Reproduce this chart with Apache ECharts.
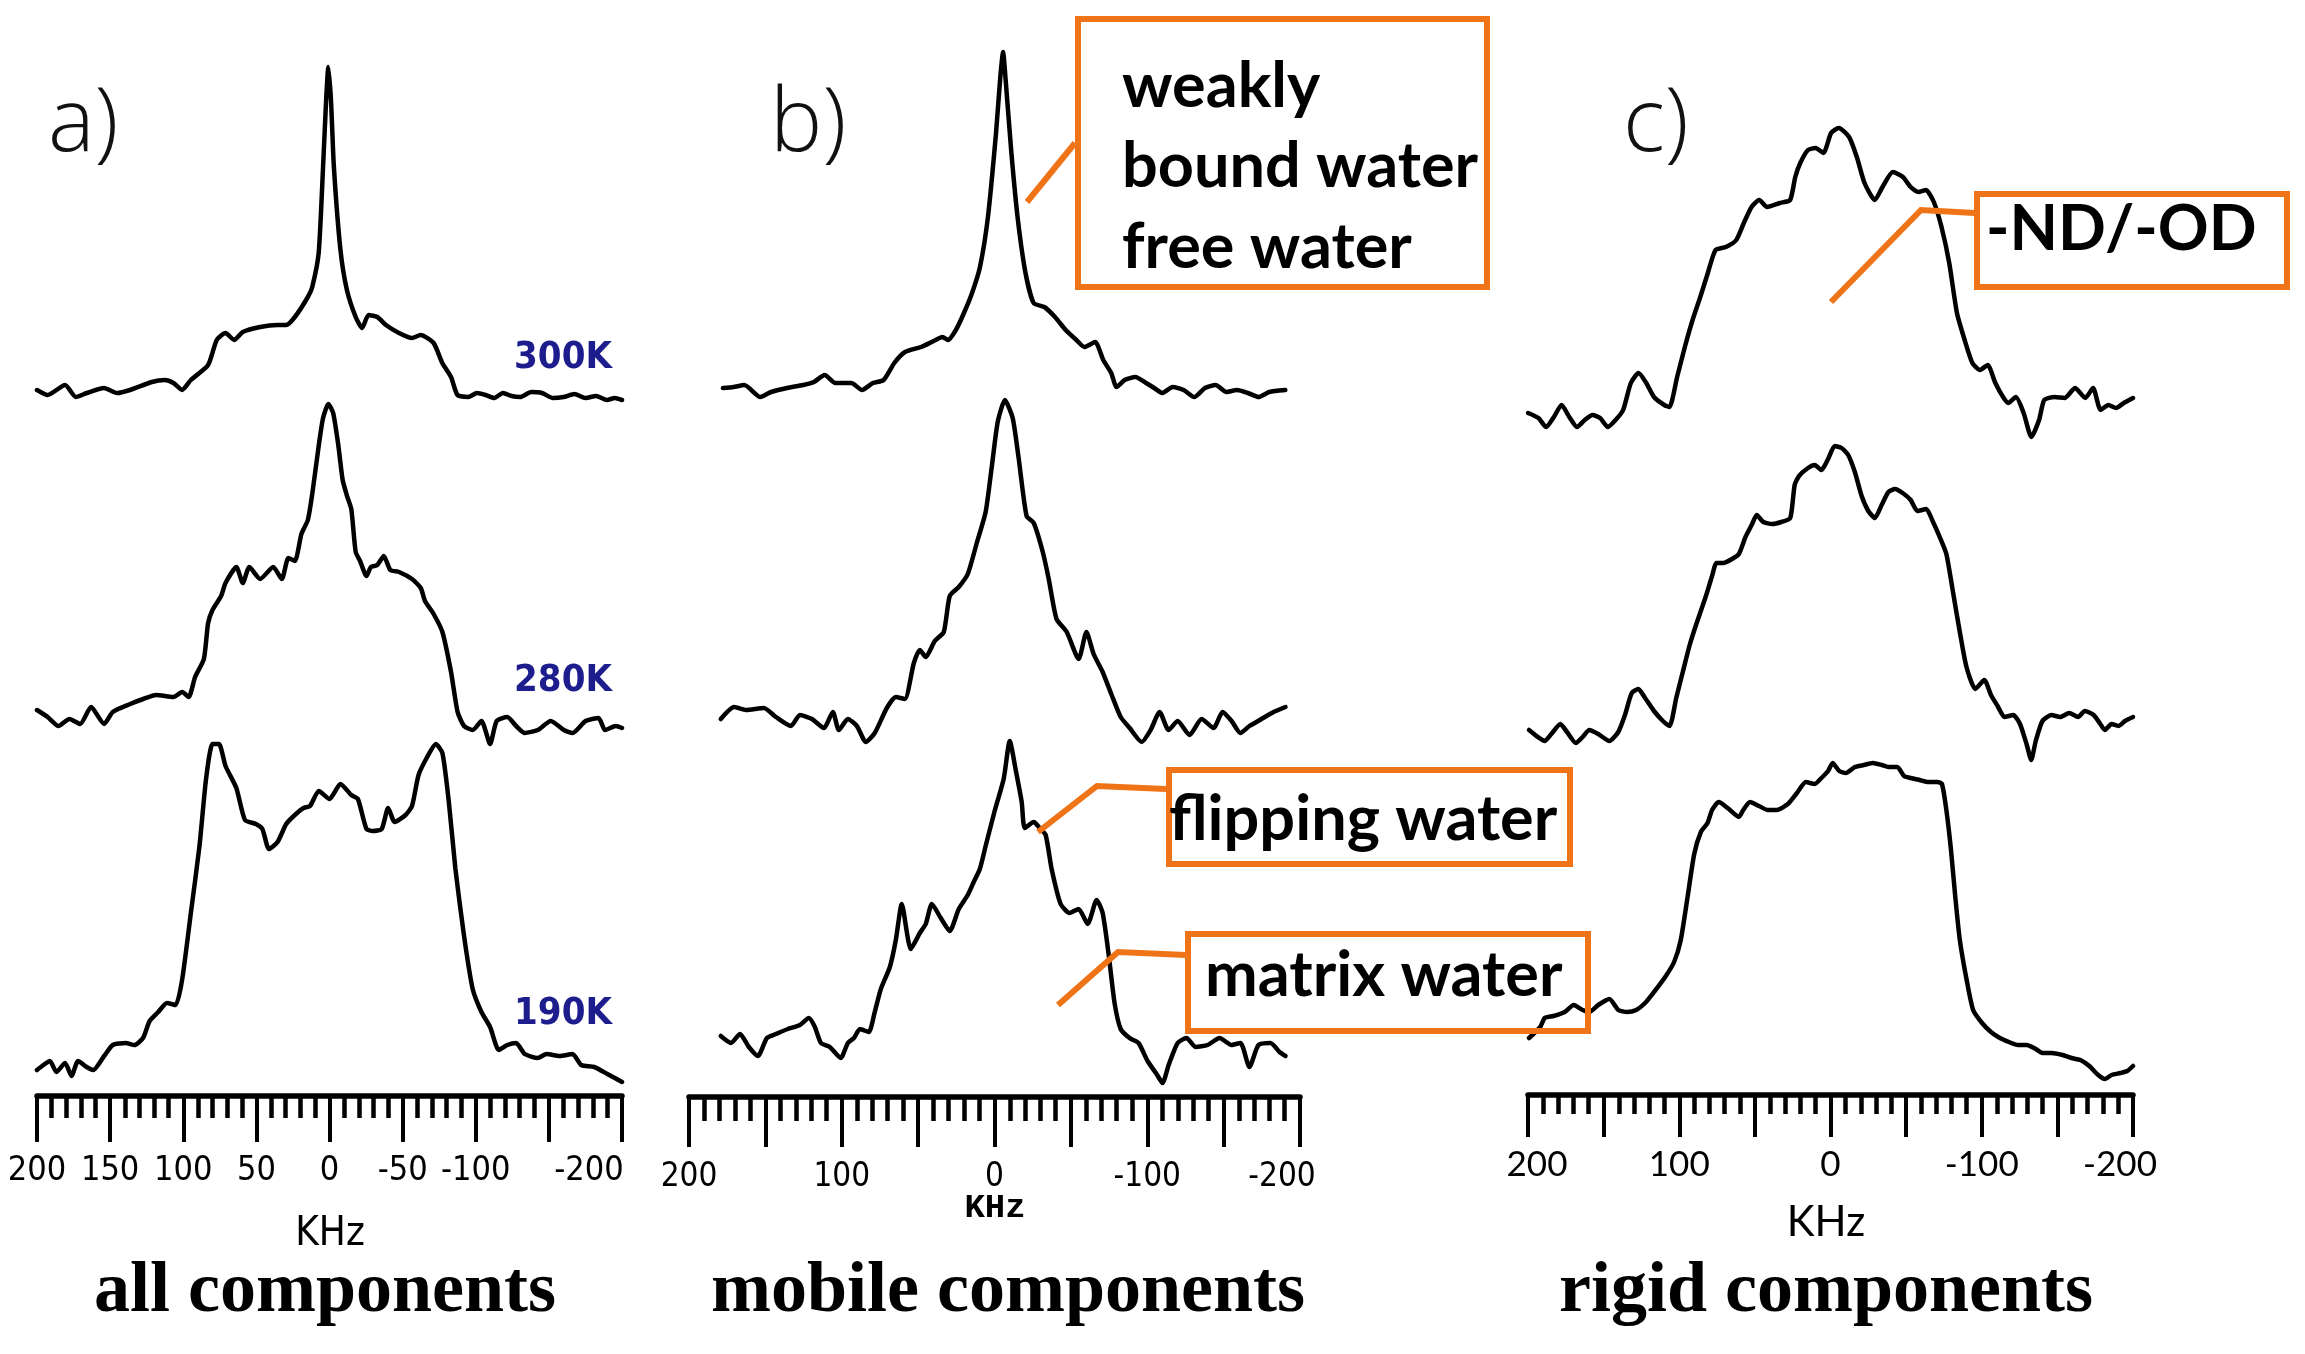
<!DOCTYPE html>
<html>
<head>
<meta charset="utf-8">
<script src="https://cdn.jsdelivr.net/npm/echarts@6/dist/echarts.min.js"></script>
<style>
html,body{margin:0;padding:0;background:#ffffff;}
#chart{width:2305px;height:1354px;}
</style>
</head>
<body>
<div id="chart"></div>
<script>
// ---------------- DATA (frequency in kHz, intensity in arbitrary units) ----------------
// Panel a) all components
const a300K = [[200,10],[192.7,5],[180.8,15],[173.4,3],[166,7],[154.2,12],[145.3,7],[136.4,10],[121.5,18],[112.6,20],[106.7,17],[100.8,10],[94.8,20],[83,35],[77.1,60],[71.1,67],[65.2,60],[59.3,68],[47.4,73],[35.6,75],[29.6,75],[23.7,83],[14.8,103],[11.8,113],[7.4,147],[4.4,233],[2.3,300],[0.8,333],[-1,300],[-3,233],[-7.5,150],[-11.9,110],[-17.9,83],[-22.3,72],[-26.7,85],[-32.7,83],[-38.6,75],[-47.5,67],[-56.4,62],[-62.3,65],[-71.2,57],[-77.1,37],[-83.1,23],[-87.5,5],[-94.9,3],[-100.8,7],[-106.8,5],[-112.6,2],[-118.6,7],[-124.5,4],[-130.5,3],[-137.9,8],[-145.3,7],[-152.7,2],[-160,3],[-167.5,6],[-174.9,2],[-182.3,4],[-189.7,0],[-195,2],[-200,0]];
const a280K = [[200,20],[192.7,13],[185.3,4],[177.8,11],[170.5,6],[163,23],[154.1,6],[148.2,18],[136.3,26],[127.4,31],[118.6,35],[106.7,33],[100.7,38],[96.3,33],[91.9,53],[85.9,71],[83,107],[80,120],[74.1,134],[71.1,147],[63.7,163],[59.3,147],[54.8,163],[47.4,151],[38.5,163],[32.6,151],[28.1,172],[23.7,169],[19.2,196],[14.8,210],[11.8,236],[7.3,285],[4.4,312],[0.8,326],[-2.5,317],[-6,285],[-9,250],[-12,234],[-14.9,221],[-17.9,178],[-20.9,169],[-25.3,154],[-28.3,163],[-32.7,165],[-37.1,174],[-41.6,160],[-47.5,158],[-56.4,151],[-62.4,142],[-65.3,129],[-71.2,116],[-77.2,98],[-83.1,58],[-87.6,18],[-92,4],[-97.9,0],[-103.9,9],[-109.8,-14],[-114.3,9],[-121.6,13],[-127.6,4],[-133.5,-3],[-142.4,0],[-151.3,9],[-160.2,0],[-166.2,-3],[-175.1,9],[-184,12],[-188.4,0],[-195.8,4],[-200,2]];
const a190K = [[200,15],[195.6,20],[191.2,24],[186.7,13],[180.8,22],[176.4,9],[171.9,24],[166,18],[161.6,15],[154.1,29],[148.2,40],[139.3,42],[133.4,40],[127.5,47],[123,64],[117.1,73],[111.1,82],[105.2,80],[100.8,105],[94.8,172],[88.9,239],[84.4,306],[80,341],[75.6,341],[71.1,319],[63.7,297],[57.8,265],[50.3,261],[45.9,256],[41.4,236],[35.5,243],[29.6,261],[23.7,270],[17.7,277],[13.3,279],[7.3,294],[0,286],[-7.5,301],[-14.9,290],[-19.4,286],[-25.3,256],[-29.7,254],[-35.7,256],[-40.1,277],[-44.6,263],[-52,270],[-56.4,279],[-60.9,310],[-66.8,328],[-72.7,341],[-77.2,332],[-81.6,283],[-86.1,216],[-92,149],[-97.9,96],[-103.9,73],[-109.8,58],[-115.8,35],[-121.6,40],[-127.6,42],[-133.5,31],[-142.4,27],[-148.4,31],[-157.3,29],[-166.2,31],[-172.1,20],[-181,18],[-190,11],[-200,3]];
// Panel b) mobile components
const bTop = [[177.8,7],[170.8,8],[163.8,10],[153.3,-2],[146.3,3],[135.8,7],[125.2,10],[118.2,13],[111.2,20],[104.2,12],[93.7,12],[86.7,5],[79.6,12],[72.6,15],[65.6,32],[58.6,43],[48.1,48],[41.1,53],[34,58],[30.5,55],[25.3,65],[20,82],[14.7,102],[9.5,128],[4.3,178],[-1,262],[-3.8,318],[-5.6,343],[-7.3,315],[-10.9,245],[-15.1,178],[-20.3,122],[-25.6,92],[-32.6,88],[-39.6,78],[-46.6,65],[-53.6,55],[-58.9,48],[-65.9,53],[-71.2,35],[-76.4,22],[-79.9,8],[-85.2,15],[-92.2,18],[-99.2,12],[-104.5,7],[-109.7,2],[-116.7,8],[-123.8,5],[-130.8,-2],[-137.8,7],[-144.8,10],[-151.8,3],[-158.8,5],[-165.9,2],[-172.9,-2],[-179.9,3],[-190.4,5]];
const bMid = [[179.2,9],[170.5,21],[162.7,18],[151,20],[143.1,11],[133.3,2],[127.4,13],[119.5,9],[111.7,0],[105.8,16],[101.9,-2],[96,9],[90.1,2],[84.2,-14],[78.4,-5],[70.5,20],[64.6,31],[58.7,29],[52.8,65],[48.9,78],[45,71],[39.1,87],[33.2,96],[29.3,132],[23.4,141],[17.5,154],[11.6,185],[5.8,216],[1.8,261],[-2.1,306],[-6.8,328],[-11.9,310],[-15.8,270],[-21,212],[-25.7,205],[-31.6,176],[-35.5,149],[-40.6,109],[-47.3,96],[-55.1,69],[-60.2,96],[-64.9,74],[-70.8,56],[-76.7,33],[-82.6,11],[-88.5,0],[-96.3,-14],[-102.2,-2],[-108.1,16],[-114,-2],[-119.9,7],[-127.7,-7],[-135.6,9],[-143.4,0],[-149.3,16],[-155.2,7],[-161,-5],[-166.9,2],[-174.8,9],[-182.7,16],[-190.5,21]];
const bLow = [[179.2,9],[172.5,2],[166.6,11],[160.8,-2],[154.9,-11],[149,7],[143.1,11],[135.3,16],[127.4,20],[121.5,27],[117.6,18],[113.6,2],[107.8,-2],[100.7,-13],[96,2],[92,7],[88.1,16],[82.3,13],[78.4,33],[74.4,56],[68.5,78],[64.6,105],[60.7,141],[54.8,96],[48.9,112],[45,121],[41,141],[35.2,127],[29.3,114],[23.4,136],[17.5,150],[13.6,163],[9.6,176],[5.8,199],[-0.1,234],[-6,266],[-10,304],[-13.9,275],[-17.8,243],[-19.8,217],[-25.7,223],[-29.6,217],[-33.5,210],[-37.4,176],[-43.3,141],[-49.2,132],[-55.1,136],[-61,121],[-66.9,145],[-70.8,132],[-74.7,91],[-78.6,42],[-82.6,16],[-88.4,7],[-94.3,2],[-100.2,-16],[-106.1,-29],[-110,-38],[-114,-20],[-119.9,2],[-125.7,7],[-131.7,-2],[-139.5,0],[-147.4,7],[-155.2,0],[-161,2],[-166.9,-22],[-172.8,0],[-180.7,2],[-186.6,-7],[-190.5,-11]];
// Panel c) rigid components
const cTop = [[199.9,2],[193.1,-3],[188,-12],[182.9,-2],[177.8,10],[172.7,-2],[167.6,-12],[162.5,-5],[157.4,0],[152.3,-3],[147.2,-12],[142.1,-5],[137.1,5],[132,32],[126.9,42],[121.8,32],[116.7,18],[109.9,10],[106.5,8],[101.4,38],[96.3,68],[91.2,95],[86.1,118],[81.1,142],[76,165],[69.2,168],[62.3,175],[57.3,192],[52.2,208],[47.1,215],[42,208],[33.5,212],[26.7,215],[23.3,238],[20,252],[14.9,265],[9.8,267],[4.7,262],[-0.4,282],[-5.5,287],[-12.3,278],[-17.4,258],[-22.5,232],[-29.3,215],[-34.4,228],[-41.2,243],[-47.9,238],[-53,228],[-58.1,223],[-63.2,225],[-68.3,213],[-73.4,188],[-78.5,152],[-83.6,102],[-88.7,75],[-93.8,52],[-98.8,45],[-103.9,50],[-109,32],[-114.1,18],[-117.6,12],[-122.6,18],[-127.7,2],[-132.8,-22],[-137.9,-5],[-141.3,15],[-148.1,18],[-154.8,17],[-161.7,27],[-168.5,17],[-173.6,27],[-178.6,5],[-183.7,10],[-188.8,7],[-193.9,12],[-200,17]];
const cMid = [[199.3,10],[193.5,3],[189,-1],[184.6,6],[178.6,16],[174.2,8],[168.3,-3],[163.9,3],[159.5,10],[153.6,6],[146.2,-1],[140.3,8],[135.9,25],[131.4,47],[127,51],[122.6,42],[116.7,29],[110.8,19],[106.4,14],[102,42],[97.5,69],[93.1,95],[88.7,116],[82.8,142],[78.3,164],[75.4,177],[70.9,177],[65.1,181],[60.6,186],[56.2,203],[51.8,216],[48.8,225],[44.4,218],[38.5,216],[32.6,218],[26.6,222],[23.7,255],[20.8,264],[14.9,272],[10.4,275],[6,270],[1.6,281],[-2.8,294],[-7.3,292],[-11.7,285],[-16.1,268],[-20.6,244],[-25,229],[-29.4,222],[-33.8,235],[-38.3,248],[-42.7,251],[-48.6,246],[-53,240],[-57.5,229],[-63.3,231],[-67.8,218],[-72.2,203],[-76.6,186],[-81.1,147],[-85.5,108],[-89.9,73],[-95.8,51],[-101.7,60],[-106.1,45],[-110.5,34],[-115,23],[-120.9,25],[-125.3,16],[-129.8,-5],[-132.7,-20],[-135.7,-1],[-140.1,19],[-146,25],[-151.9,23],[-157.8,27],[-163.7,23],[-168.1,29],[-174,25],[-178.4,16],[-181.4,10],[-185.8,16],[-190.3,14],[-194.7,19],[-200,23]];
const cLow = [[199.3,42],[191.9,53],[189,62],[183.1,64],[175.7,68],[169.8,75],[163.9,70],[159.5,68],[153.6,75],[146.2,81],[140.3,70],[134.4,68],[128.5,70],[122.6,77],[116.7,88],[109.3,103],[103.4,118],[99,140],[94.5,183],[90.1,226],[85.7,248],[81.3,257],[78.3,270],[73.9,278],[68,272],[60.6,263],[57.7,270],[53.2,278],[47.3,274],[41.5,270],[35.5,270],[28.2,276],[22.2,287],[16.3,298],[10.4,296],[6,302],[1.6,309],[-1.4,317],[-5.8,309],[-10.2,307],[-16.1,313],[-22,315],[-28,317],[-33.9,315],[-38.3,313],[-44.2,313],[-48.6,304],[-53,302],[-58.9,300],[-64.8,298],[-70.7,298],[-73.7,296],[-76.6,270],[-79.6,231],[-82.5,183],[-85.5,140],[-89.9,101],[-94.3,70],[-100.2,57],[-106.1,48],[-112,42],[-118,38],[-123.9,35],[-129.8,35],[-135.7,31],[-140.1,27],[-146,27],[-153.4,25],[-159.3,22],[-165.2,20],[-171.1,14],[-177,5],[-181.4,1],[-185.8,5],[-191.7,7],[-196.2,9],[-200,14]];

// Tick labels of the three frequency axes (one entry per major tick, 200 -> -200)
const ticksA = ['200','150','100','50','0','-50','-100','','-200'];
const ticksB = ['200','','100','','0','','-100','','-200'];
const ticksC = ['200','','100','','0','','-100','','-200'];
const tempLabels = ['300K','280K','190K'];
const panelLetters = ['a)','b)','c)'];
const panelTitles = ['all components','mobile components','rigid components'];
const axisUnit = 'KHz';
const annotations = [['weakly','bound water','free water'],['-ND/-OD'],['flipping water'],['matrix water']];

// ---------------- LAYOUT ----------------
const ORANGE = '#EF7417';
const NAVY = '#1d1d8e';
const COND = '"DejaVu Sans Condensed","DejaVu Sans",sans-serif';
const panels = [
  {left:37, width:585, base:[400,730,1085], axisY:1096, tickLen:46, minorLen:22, margin:58,
   ticks:ticksA, labFont:COND, labSize:34, lastShift:66, firstShift:0},
  {left:689, width:611, base:[395,728,1045], axisY:1097, tickLen:50, minorLen:24, margin:64,
   ticks:ticksB, labFont:COND, labSize:33, lastShift:36, firstShift:0},
  {left:1528, width:605, base:[415,740,1080], axisY:1095, tickLen:42, minorLen:19, margin:52,
   ticks:ticksC, labFont:'Lato, sans-serif', labSize:35, lastShift:26, firstShift:-18}
];
const traces = [[a300K,a280K,a190K],[bTop,bMid,bLow],[cTop,cMid,cLow]];

const grids = [], xAxes = [], yAxes = [], series = [];
panels.forEach((p, pi) => {
  traces[pi].forEach((tr, ti) => {
    const gi = grids.length;
    grids.push({left:p.left, width:p.width, top:p.base[ti]-360, height:420});
    xAxes.push({gridIndex:gi, type:'value', min:-200, max:200, inverse:true, show:false});
    yAxes.push({gridIndex:gi, type:'value', min:-60, max:360, show:false});
    series.push({type:'line', xAxisIndex:gi, yAxisIndex:gi, data:tr, symbol:'none', showSymbol:false,
      smooth:0.2, lineStyle:{color:'#000', width:4.5, join:'round', cap:'round'}, silent:true, animation:false, z:3});
  });
  const gi = grids.length;
  grids.push({left:p.left, width:p.width, top:p.axisY-10, height:10});
  xAxes.push({
    gridIndex:gi, type:'value', min:-200, max:200, interval:50, inverse:true, position:'bottom',
    axisLine:{show:true, onZero:false, lineStyle:{color:'#000', width:5.5}},
    axisTick:{show:true, length:p.tickLen, lineStyle:{color:'#000', width:4}},
    minorTick:{show:true, splitNumber:5, length:p.minorLen, lineStyle:{color:'#000', width:4.5}},
    splitLine:{show:false}, minorSplitLine:{show:false},
    axisLabel:{
      show:true, margin:p.margin, color:'#000', fontFamily:p.labFont, fontSize:p.labSize,
      showMinLabel:true, showMaxLabel:true, hideOverlap:false,
      formatter:(v) => {
        const i = Math.round((200 - v) / 50);
        const t = p.ticks[i] || '';
        if (t === '') return '';
        if (i === 8) return '{l|' + t + '}';
        if (i === 0 && p.firstShift) return '{f|' + t + '}';
        return t;
      },
      rich:{
        l:{fontFamily:p.labFont, fontSize:p.labSize, color:'#000', padding:[0,p.lastShift,0,0]},
        f:{fontFamily:p.labFont, fontSize:p.labSize, color:'#000', padding:[0,0,0,-p.firstShift]}
      }
    }
  });
  yAxes.push({gridIndex:gi, type:'value', min:0, max:1, show:false});
});

// ---------------- TEXT & ANNOTATIONS ----------------
function txt(text, x, y, font, size, weight, color, align) {
  return {type:'text', x:x, y:y, z:10, silent:true,
    style:{text:text, fontFamily:font, fontSize:size, fontWeight:weight, fill:color,
      align:align||'left', verticalAlign:'middle', textAlign:align||'left', textVerticalAlign:'middle'}};
}
const LETTER_FONT = '"Open Sans", sans-serif';
const CAL = 'Lato, "Open Sans", sans-serif';
const SERIF = '"Liberation Serif", "Times New Roman", serif';
const graphics = [];
// panel letters
graphics.push(txt(panelLetters[0], 48, 126, LETTER_FONT, 88, 300, '#111', 'left'));
graphics.push(txt(panelLetters[1], 770, 126, LETTER_FONT, 88, 300, '#111', 'left'));
graphics.push(txt(panelLetters[2], 1623, 126, LETTER_FONT, 88, 300, '#111', 'left'));
// temperatures
graphics.push(txt(tempLabels[0], 563, 358, COND, 38, 'bold', NAVY, 'center'));
graphics.push(txt(tempLabels[1], 563, 681, COND, 38, 'bold', NAVY, 'center'));
graphics.push(txt(tempLabels[2], 563, 1014, COND, 38, 'bold', NAVY, 'center'));
// axis unit labels
graphics.push(txt(axisUnit, 330, 1235, COND, 40, 'normal', '#000', 'center'));
graphics.push(txt(axisUnit, 995, 1208, '"Liberation Mono", monospace', 34, 'bold', '#000', 'center'));
graphics.push(txt(axisUnit, 1826, 1222, CAL, 42, 'normal', '#000', 'center'));
// panel titles
graphics.push(txt(panelTitles[0], 325, 1292, SERIF, 72, 'bold', '#000', 'center'));
graphics.push(txt(panelTitles[1], 1008, 1292, SERIF, 72, 'bold', '#000', 'center'));
graphics.push(txt(panelTitles[2], 1826, 1292, SERIF, 72, 'bold', '#000', 'center'));
// annotation boxes
function box(x, y, w, h) {
  return {type:'rect', z:8, silent:true, shape:{x:x, y:y, width:w, height:h},
    style:{fill:'rgba(0,0,0,0)', stroke:ORANGE, lineWidth:6}};
}
function leader(points) {
  return {type:'polyline', z:8, silent:true, shape:{points:points},
    style:{fill:null, stroke:ORANGE, lineWidth:6}};
}
graphics.push(box(1078, 19, 409, 268));
graphics.push(leader([[1027,202],[1075,143]]));
graphics.push(txt(annotations[0][0], 1122, 87, CAL, 63, 'bold', '#000', 'left'));
graphics.push(txt(annotations[0][1], 1122, 167, CAL, 63, 'bold', '#000', 'left'));
graphics.push(txt(annotations[0][2], 1122, 248, CAL, 63, 'bold', '#000', 'left'));

graphics.push(box(1977, 194, 310, 93));
graphics.push(leader([[1831,302],[1921,210],[1975,213]]));
graphics.push(txt(annotations[1][0], 1986, 230, CAL, 63, 'bold', '#000', 'left'));

graphics.push(box(1169, 770, 401, 94));
graphics.push(leader([[1038,832],[1097,786],[1166,789]]));
graphics.push(txt(annotations[2][0], 1169, 820, CAL, 63, 'bold', '#000', 'left'));

graphics.push(box(1188, 934, 400, 97));
graphics.push(leader([[1058,1005],[1118,952],[1186,955]]));
graphics.push(txt(annotations[3][0], 1205, 976, CAL, 63, 'bold', '#000', 'left'));

const chart = echarts.init(document.getElementById('chart'), null, {renderer:'canvas'});
chart.setOption({
  animation:false,
  backgroundColor:'#ffffff',
  grid:grids, xAxis:xAxes, yAxis:yAxes, series:series,
  graphic:{elements:graphics}
});
</script>
</body>
</html>
